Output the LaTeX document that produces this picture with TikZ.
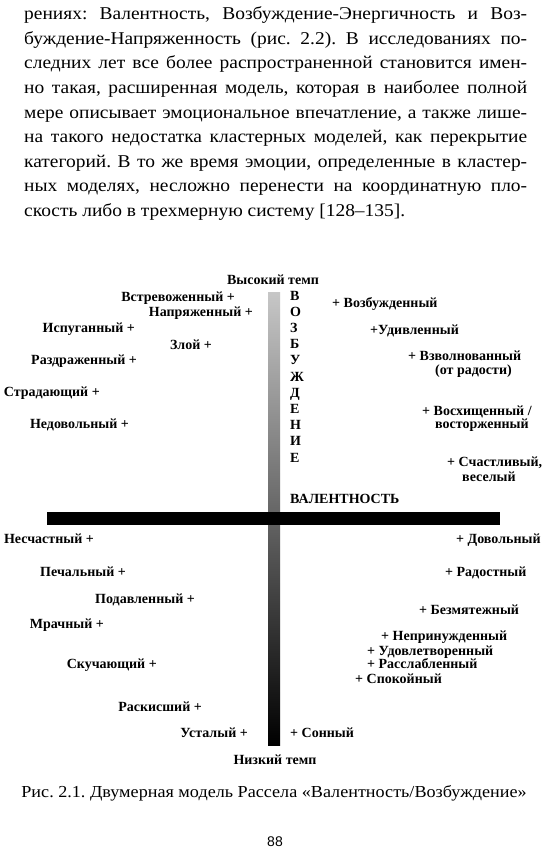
\documentclass[tikz,border=0pt]{standalone}
\usepackage{fontspec}
\setmainfont{Liberation Serif}
\newfontfamily\bodyfont[FakeStretch=1.08, Ligatures=TeX]{Liberation Serif}
\newfontfamily\pagenumfont{Liberation Sans}
\frenchspacing

\begin{document}
\begin{tikzpicture}[x=1pt, y=-1pt,
    txt/.style={font=\bodyfont\fontsize{18}{24}\selectfont, anchor=base west, inner sep=0pt},
    emo/.style={font=\bfseries\fontsize{14}{16}\selectfont, inner sep=0pt},
    emol/.style={emo, anchor=base east},
    emor/.style={emo, anchor=base west}]
  \useasboundingbox[fill=white] (0,0) rectangle (547,856);

  % paragraph above the figure
  \node[txt] (l1) at (24,20) {\makebox[503pt][s]{рениях: Валентность, Возбуждение-Энергичность и Воз-}};
  \node[txt] (l2) at (24,44.5) {\makebox[503pt][s]{буждение-Напряженность (рис. 2.2). В исследованиях по-}};
  \node[txt] (l3) at (24,69) {\makebox[503pt][s]{следних лет все более распространенной становится имен-}};
  \node[txt] (l4) at (24,93.5) {\makebox[503pt][s]{но такая, расширенная модель, которая в наиболее полной}};
  \node[txt] (l5) at (24,118) {\makebox[503pt][s]{мере описывает эмоциональное впечатление, а также лише-}};
  \node[txt] (l6) at (24,142.5) {\makebox[503pt][s]{на такого недостатка кластерных моделей, как перекрытие}};
  \node[txt] (l7) at (24,167) {\makebox[503pt][s]{категорий. В то же время эмоции, определенные в кластер-}};
  \node[txt] (l8) at (24,191.5) {\makebox[503pt][s]{ных моделях, несложно перенести на координатную пло-}};
  \node[txt] (l9) at (24,216) {скость либо в трехмерную систему [128–135].};

  % axes
  \shade[top color=black!22, bottom color=black] (268,292) rectangle (280,745);
  \fill[black] (47,512) rectangle (500,525);
  \node[emo, anchor=base] (high) at (273,284) {Высокий темп};
  \node[emo, anchor=base] (low) at (275,764) {Низкий темп};
  \node[emor] (val) at (290,503) {ВАЛЕНТНОСТЬ};
  \foreach \ch [count=\i from 0] in {В,О,З,Б,У,Ж,Д,Е,Н,И,Е}
    \node[emor] (ar\i) at (290,300+16.2*\i) {\ch};

  % upper left
  \node[emol] (alarmed) at (235,301) {Встревоженный +};
  \node[emol] (tense) at (253,316.5) {Напряженный +};
  \node[emol] (afraid) at (135,332.5) {Испуганный +};
  \node[emol] (angry) at (212,349) {Злой +};
  \node[emol] (annoyed) at (137,364.5) {Раздраженный +};
  \node[emol] (distressed) at (100,396.5) {Страдающий +};
  \node[emol] (frustrated) at (129,428) {Недовольный +};

  % upper right
  \node[emor] (aroused) at (332,307) {+ Возбужденный};
  \node[emor] (astonished) at (370,334) {+Удивленный};
  \node[emor] (excited) at (408,360.5) {+ Взволнованный};
  \node[emor] (excited2) at (435,374.5) {(от радости)};
  \node[emor] (delighted) at (422,415) {+ Восхищенный /};
  \node[emor] (delighted2) at (435,428.5) {восторженный};
  \node[emor] (happy) at (447,466.5) {+ Счастливый,};
  \node[emor] (happy2) at (462,481) {веселый};

  % lower left
  \node[emol] (miserable) at (94,543) {Несчастный +};
  \node[emol] (sad) at (126,576) {Печальный +};
  \node[emol] (depressed) at (195,603) {Подавленный +};
  \node[emol] (gloomy) at (104,628) {Мрачный +};
  \node[emol] (bored) at (157,668) {Скучающий +};
  \node[emol] (droopy) at (202,711) {Раскисший +};
  \node[emol] (tired) at (248,737) {Усталый +};

  % lower right
  \node[emor] (pleased) at (456,543) {+ Довольный};
  \node[emor] (glad) at (445,576) {+ Радостный};
  \node[emor] (serene) at (419,614) {+ Безмятежный};
  \node[emor] (atease) at (381,640.5) {+ Непринужденный};
  \node[emor] (content) at (367,655) {+ Удовлетворенный};
  \node[emor] (relaxed) at (367,668.5) {+ Расслабленный};
  \node[emor] (calm) at (355,683.5) {+ Спокойный};
  \node[emor] (sleepy) at (290,737) {+ Сонный};

  % caption and page number
  \node[font=\bodyfont\fontsize{16.8}{20}\selectfont, anchor=base, inner sep=0pt] (caption) at (274,797)
    {Рис. 2.1. Двумерная модель Рассела «Валентность/Возбуждение»};
  \node[font=\pagenumfont\fontsize{14}{16}\selectfont, anchor=base, inner sep=0pt] (page) at (275,846) {88};
\end{tikzpicture}
\end{document}
